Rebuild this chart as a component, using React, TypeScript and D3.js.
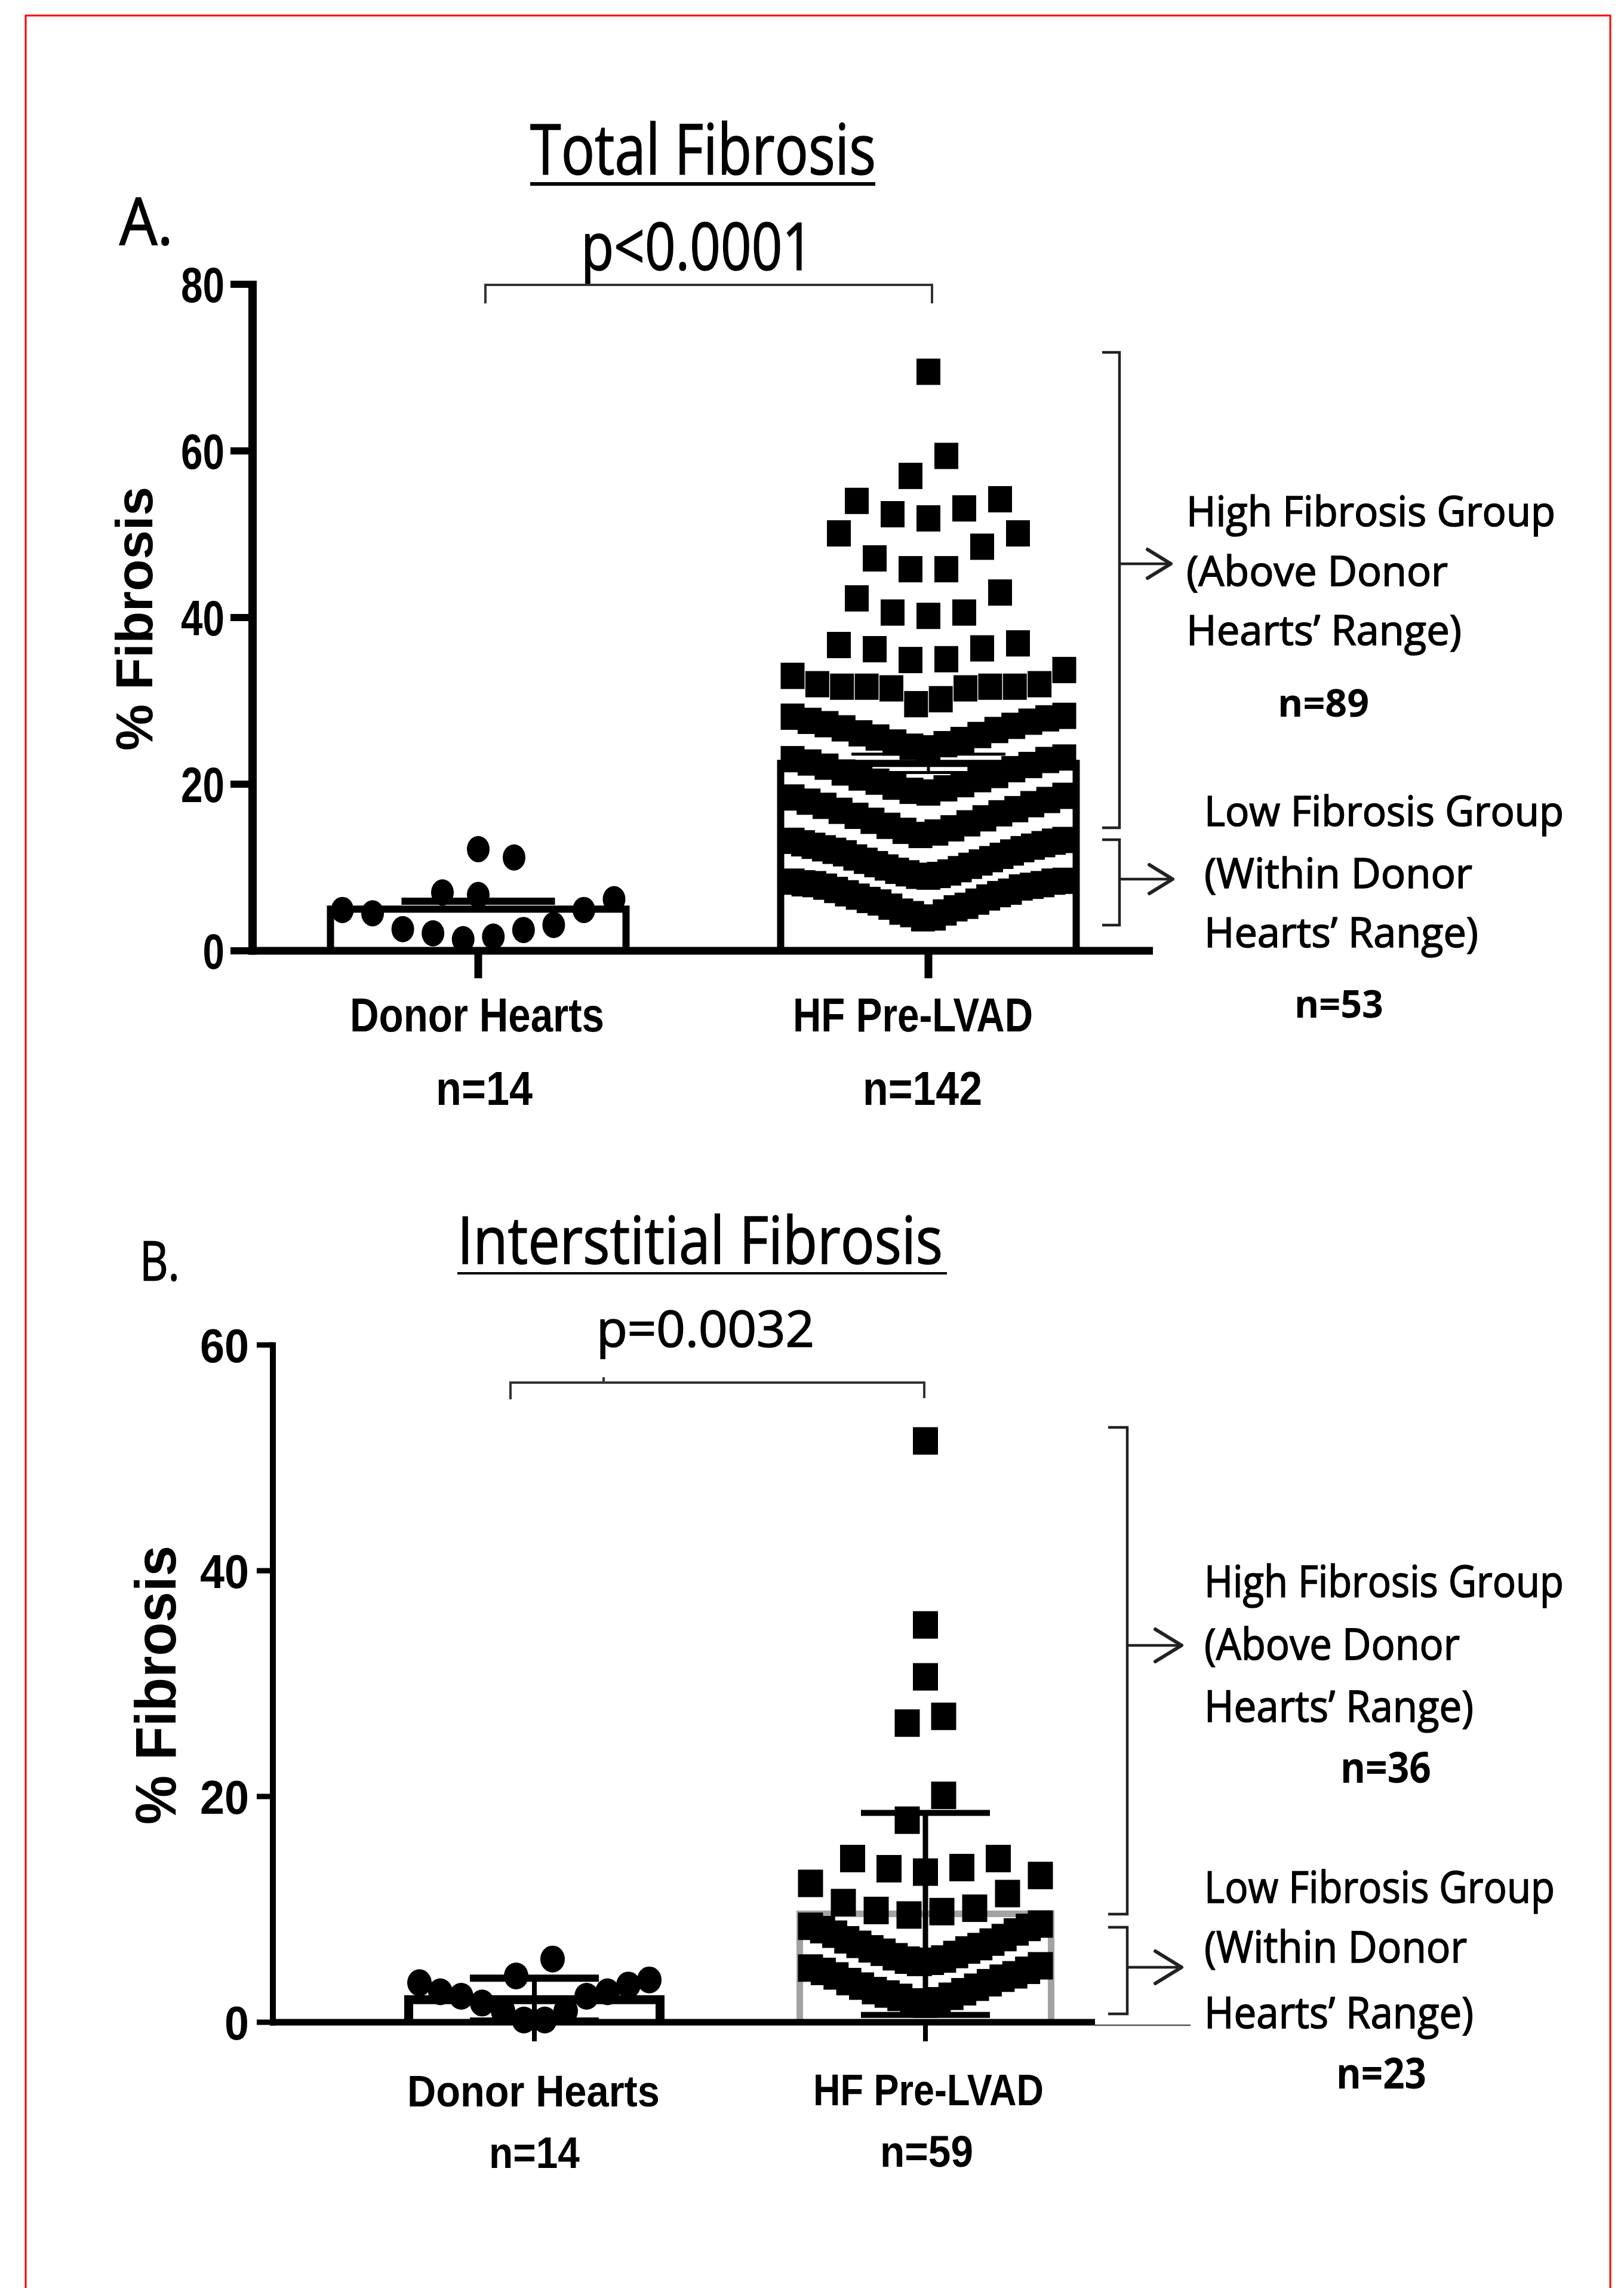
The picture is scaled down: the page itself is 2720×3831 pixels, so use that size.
import React, { Component, createRef } from "react";
import * as d3 from "d3";

const categories = ["Donor Hearts", "HF Pre-LVAD"];

// Panel A - total fibrosis
const totalDonor = [12.2, 11.2, 7.0, 6.7, 6.2, 4.9, 4.9, 4.5, 3.1, 2.6, 2.5, 2.1, 1.7, 1.4];
const totalHF = [
  69.5, 59.4, 57.0, 54.2, 54.0, 53.1, 52.4, 51.9, 50.1, 50.1, 48.5, 47.1, 45.8, 45.8,
  43.0, 42.3, 40.6, 40.6, 40.2, 36.9, 36.7, 36.3, 36.2, 35.0, 34.9,
  33.7, 33.0, 32.0, 32.0, 31.7, 31.7, 31.7, 31.7, 31.5, 31.5, 30.2, 29.6,
  28.2, 28.1, 27.9, 27.6, 27.5, 27.2, 27.0, 26.7, 26.5, 26.1, 25.9, 25.6, 25.3, 25.0, 24.8, 24.5, 24.3,
  23.2, 23.0, 22.9, 22.6, 22.3, 22.1, 21.8, 21.4, 21.1, 20.8, 20.6, 20.3, 20.0, 19.7, 19.5, 19.2, 19.0,
  18.6, 18.4, 18.1, 17.9, 17.6, 17.4, 17.0, 16.8, 16.5, 16.2, 15.9, 15.6, 15.3, 15.0, 14.7, 14.4, 14.2, 13.9,
  13.3, 13.2, 13.1, 12.9, 12.8, 12.6, 12.5, 12.3, 12.2, 12.0, 11.8, 11.7, 11.4, 11.2, 11.0, 10.8, 10.6,
  10.4, 10.2, 10.0, 9.8, 9.6, 9.4, 9.3, 9.1, 9.0, 8.9,
  8.4, 8.3, 8.3, 8.1, 8.0, 8.0, 7.8, 7.7, 7.6, 7.3, 7.1, 6.9, 6.8, 6.5, 6.4, 6.1, 5.9, 5.8, 5.4, 5.3,
  5.1, 4.7, 4.6, 4.4, 4.0, 3.9,
];
const totalMean = [5.0, 22.5];
const totalSem = [0.95, 1.1];
const totalTicks = [0, 20, 40, 60, 80];
const totalN = ["n=14", "n=142"];
const totalGroupN = ["n=89", "n=53"];

// Panel B - interstitial fibrosis
const interDonor = [5.6, 4.1, 3.75, 3.5, 3.3, 2.7, 2.7, 2.3, 2.3, 1.7, 1.0, 1.0, 0.2, 0.2];
const interHF = [
  51.5, 35.2, 30.6, 27.1, 26.5, 20.1, 17.9,
  14.5, 14.5, 13.7, 13.6, 13.3,
  13.0, 12.3, 11.4, 10.6, 10.1, 9.9, 9.8, 9.5,
  8.7, 8.5, 8.4, 8.2, 8.0, 7.8, 7.5, 7.3, 7.1, 6.9, 6.7, 6.5, 6.4, 6.2, 6.0, 5.8, 5.6, 5.5, 5.4, 5.3,
  5.0, 4.8, 4.6, 4.5, 4.2, 4.1, 3.9, 3.6, 3.5, 3.2, 3.1, 2.8, 2.7, 2.5, 2.3, 2.2, 1.9, 1.8, 1.6,
];
const interMean = [2.0, 9.6];
const interSd = [1.9, 8.95];
const interTicks = [0, 20, 40, 60];
const interN = ["n=14", "n=59"];
const interGroupN = ["n=36", "n=23"];

const highText = ["High Fibrosis Group", "(Above Donor", "Hearts\u2019 Range)"];
const lowText = ["Low Fibrosis Group", "(Within Donor", "Hearts\u2019 Range)"];

const SANS = "'Liberation Sans', Arial, sans-serif";
const OPEN = "'Open Sans', sans-serif";

const panelA = {
  title: "Total Fibrosis", letter: "A.", p: "p<0.0001",
  donor: totalDonor, hf: totalHF, mean: totalMean, err: totalSem, lowerCap: [false, true],
  ticks: totalTicks, ns: totalN, groupNs: totalGroupN,
  yMax: 80, yRange: [1592, 476], xCenters: [801, 1555],
  axisX: 423, axisW: 14, xEnd: 1931, xAxisW: 13, tickLen: 37, tickW: 12, xTickLen: 46, xTickW: 13,
  labRight: 376, labSize: 84, digitW: 36.5,
  barW: 495, barStroke: [12, 12], barColor: ["#000", "#000"],
  capW: [257, 258], capStroke: [12, 5], stemStroke: [8, 5],
  binPx: 69, gap: 60, spread: 455, dot: [38, 44], sq: [40, 44],
  titlePos: [888, 292, 118, 579], underline: [888, 1466, 308, 6],
  letterPos: [200, 410, 109, 90],
  pPos: [973, 452, 110, 389], bracket: "M813,508V477H1561V508",
  yLab: [255, 1257, 87, 442],
  catPos: [[586, 1727, 426], [1328, 1727, 402]], catSize: 80,
  nPos: [[730, 1850, 162], [1445, 1850, 200]],
  sideSize: 69, sideNSize: 64,
  highLines: [[1987, 881, 618], [1987, 981, 438], [1987, 1080, 461]], highN: [2140, 1200, 153],
  lowLines: [[2017, 1383, 602], [2017, 1487, 449], [2017, 1586, 459]], lowN: [2168, 1704, 149],
  brackets: [[1846, 1875, 590, 1386, 944, 1961], [1846, 1875, 1406, 1549, 1472, 1964]],
  arrowHead: [39, 24],
  axisTail: null,
};

const panelB = {
  title: "Interstitial Fibrosis", letter: "B.", p: "p=0.0032",
  donor: interDonor, hf: interHF, mean: interMean, err: interSd, lowerCap: [true, true],
  ticks: interTicks, ns: interN, groupNs: interGroupN,
  yMax: 60, yRange: [3386, 2252], xCenters: [895, 1550],
  axisX: 457, axisW: 10, xEnd: 1834, xAxisW: 11, tickLen: 27, tickW: 9, xTickLen: 32, xTickW: 8,
  labRight: 417, labSize: 80, digitW: 41,
  barW: 421, barStroke: [15, 11], barColor: ["#000", "#a3a3a3"],
  capW: [216, 216], capStroke: [12, 10], stemStroke: [8, 9],
  binPx: 69, gap: 61, spread: 385, dot: [41, 45], sq: [42, 46],
  titlePos: [766, 2116, 109, 813], underline: [766, 1586, 2132, 4],
  letterPos: [234, 2144, 91, 67],
  pPos: [999, 2255, 84, 365], bracket: "M855,2343V2315H1548V2341M1011,2315V2306",
  yLab: [294, 3055, 96, 467],
  catPos: [[682, 3527, 423], [1362, 3525, 386]], catSize: 75,
  nPos: [[819, 3630, 152], [1474, 3628, 156]],
  sideSize: 74, sideNSize: 72,
  highLines: [[2017, 2674, 602], [2017, 2779, 428], [2017, 2883, 451]], highN: [2245, 2985, 152],
  lowLines: [[2017, 3186, 587], [2017, 3286, 440], [2017, 3396, 451]], lowN: [2238, 3497, 151],
  brackets: [[1856, 1888, 2390, 3205, 2755, 1979], [1856, 1888, 3227, 3372, 3294, 1979]],
  arrowHead: [44, 27],
  axisTail: [1834, 1994, 3391],
};

// GraphPad-like scatter: group values into rows of binPx height, then spread
// each row around the column centre, lowest values in the middle
function swarm(values: number[], y, cx: number, binPx: number, gap: number, spread: number) {
  var sorted = values.slice().sort((a, b) => a - b);
  var out: { v: number; x: number; y: number }[] = [];
  var i = 0;
  while (i < sorted.length) {
    var start = y(sorted[i]);
    var row: number[] = [];
    while (i < sorted.length && start - y(sorted[i]) < binPx) {
      row.push(sorted[i]);
      i++;
    }
    var n = row.length;
    var step = n > 1 ? Math.min(gap, spread / (n - 1)) : 0;
    var mid = (n - 1) / 2;
    var slots = d3.range(n).sort((a, b) => Math.abs(a - mid) - Math.abs(b - mid) || a - b);
    row.forEach((v, k) => out.push({ v: v, x: cx + (slots[k] - mid) * step, y: y(v) }));
  }
  return out;
}

function label(g, txt, x, y, size, width, family = OPEN, weight = 400) {
  var t = g
    .append("text")
    .attr("x", x)
    .attr("y", y)
    .attr("font-size", size)
    .attr("font-family", family)
    .attr("font-weight", weight)
    .attr("fill", "#000")
    .text(txt);
  if (width) t.attr("textLength", width).attr("lengthAdjust", "spacingAndGlyphs");
  // the original text is a touch heavier than Open Sans regular
  if (family === OPEN && weight === 400) t.attr("stroke", "#000").attr("stroke-width", 1.6);
  return t;
}

function drawPanel(g, p) {
  var y = d3.scaleLinear().domain([0, p.yMax]).range(p.yRange);
  var x = d3.scalePoint().domain(categories).range(p.xCenters);
  var base = y(0);

  // bars (mean)
  categories.forEach((c, i) => {
    var cx = x(c), h = p.barW / 2, top = y(p.mean[i]);
    g.append("path")
      .attr("d", `M${cx - h},${base}V${top}H${cx + h}V${base}`)
      .attr("fill", "none")
      .attr("stroke", p.barColor[i])
      .attr("stroke-width", p.barStroke[i]);
  });

  // individual points
  var donorPts = swarm(p.donor, y, x(categories[0]), p.binPx, p.gap, p.spread);
  g.selectAll(".dot")
    .data(donorPts)
    .join("ellipse")
    .attr("class", "dot")
    .attr("cx", (d) => d.x)
    .attr("cy", (d) => d.y)
    .attr("rx", p.dot[0] / 2)
    .attr("ry", p.dot[1] / 2)
    .attr("fill", "#000");

  var hfPts = swarm(p.hf, y, x(categories[1]), p.binPx, p.gap, p.spread);
  g.selectAll(".sq")
    .data(hfPts)
    .join("rect")
    .attr("class", "sq")
    .attr("x", (d) => d.x - p.sq[0] / 2)
    .attr("y", (d) => d.y - p.sq[1] / 2)
    .attr("width", p.sq[0])
    .attr("height", p.sq[1])
    .attr("fill", "#000");

  // error bars
  categories.forEach((c, i) => {
    var cx = x(c), m = p.mean[i], e = p.err[i], hw = p.capW[i] / 2;
    var lo = p.lowerCap[i] ? m - e : m;
    g.append("line")
      .attr("x1", cx).attr("x2", cx)
      .attr("y1", y(lo)).attr("y2", y(m + e))
      .attr("stroke", "#000").attr("stroke-width", p.stemStroke[i]);
    var caps = p.lowerCap[i] ? [m + e, m - e] : [m + e];
    caps.forEach((v) => {
      g.append("line")
        .attr("x1", cx - hw).attr("x2", cx + hw)
        .attr("y1", y(v)).attr("y2", y(v))
        .attr("stroke", "#000").attr("stroke-width", p.capStroke[i]);
    });
  });

  // axes
  g.append("line")
    .attr("x1", p.axisX).attr("x2", p.axisX)
    .attr("y1", y(p.yMax) - p.tickW / 2).attr("y2", base + p.xAxisW / 2)
    .attr("stroke", "#000").attr("stroke-width", p.axisW);
  g.append("line")
    .attr("x1", p.axisX - p.axisW / 2).attr("x2", p.xEnd)
    .attr("y1", base).attr("y2", base)
    .attr("stroke", "#000").attr("stroke-width", p.xAxisW);
  if (p.axisTail) {
    g.append("line")
      .attr("x1", p.axisTail[0]).attr("x2", p.axisTail[1])
      .attr("y1", p.axisTail[2]).attr("y2", p.axisTail[2])
      .attr("stroke", "#555").attr("stroke-width", 2.5);
  }
  g.selectAll(".ytick")
    .data(p.ticks)
    .join("line")
    .attr("class", "ytick")
    .attr("x1", p.axisX - p.tickLen).attr("x2", p.axisX)
    .attr("y1", (d) => y(d)).attr("y2", (d) => y(d))
    .attr("stroke", "#000").attr("stroke-width", p.tickW);
  var digitH = p.labSize * 0.716;
  g.selectAll(".ylab")
    .data(p.ticks)
    .join("text")
    .attr("class", "ylab")
    .attr("x", (d) => p.labRight - String(d).length * p.digitW)
    .attr("y", (d) => y(d) + digitH / 2)
    .attr("textLength", (d) => String(d).length * p.digitW)
    .attr("lengthAdjust", "spacingAndGlyphs")
    .attr("font-size", p.labSize)
    .attr("font-family", SANS)
    .attr("font-weight", 700)
    .text((d) => d);
  categories.forEach((c) => {
    g.append("line")
      .attr("x1", x(c)).attr("x2", x(c))
      .attr("y1", base).attr("y2", base + p.xTickLen)
      .attr("stroke", "#000").attr("stroke-width", p.xTickW);
  });

  // axis titles
  label(g, "% Fibrosis", 0, 0, p.yLab[2], p.yLab[3], SANS, 700)
    .attr("transform", `translate(${p.yLab[0]},${p.yLab[1]}) rotate(-90)`);
  categories.forEach((c, i) => {
    var cp = p.catPos[i], np = p.nPos[i];
    label(g, c, cp[0], cp[1], p.catSize, cp[2], SANS, 700);
    label(g, p.ns[i], np[0], np[1], p.catSize, np[2], SANS, 700);
  });

  // title, panel letter, p value with bracket
  var tp = p.titlePos;
  label(g, p.title, tp[0], tp[1], tp[2], tp[3]);
  g.append("line")
    .attr("x1", p.underline[0]).attr("x2", p.underline[1])
    .attr("y1", p.underline[2]).attr("y2", p.underline[2])
    .attr("stroke", "#000").attr("stroke-width", p.underline[3]);
  label(g, p.letter, p.letterPos[0], p.letterPos[1], p.letterPos[2], p.letterPos[3]);
  label(g, p.p, p.pPos[0], p.pPos[1], p.pPos[2], p.pPos[3]);
  g.append("path").attr("d", p.bracket).attr("fill", "none").attr("stroke", "#333").attr("stroke-width", 4);

  // group brackets and arrows on the right
  p.brackets.forEach((b) => {
    var [x0, x1, top, bot, ay, ax] = b;
    var [al, ah] = p.arrowHead;
    g.append("path")
      .attr("d", `M${x0},${top}H${x1}V${bot}H${x0}M${x1},${ay}H${ax - 2}`)
      .attr("fill", "none").attr("stroke", "#222").attr("stroke-width", 4.5);
    g.append("path")
      .attr("d", `M${ax - al},${ay - ah}L${ax},${ay}L${ax - al},${ay + ah}`)
      .attr("fill", "none").attr("stroke", "#222").attr("stroke-width", 6)
      .attr("stroke-linecap", "round").attr("stroke-linejoin", "round");
  });
  highText.forEach((t, i) => {
    var lp = p.highLines[i];
    label(g, t, lp[0], lp[1], p.sideSize, lp[2]);
  });
  lowText.forEach((t, i) => {
    var lp = p.lowLines[i];
    label(g, t, lp[0], lp[1], p.sideSize, lp[2]);
  });
  label(g, p.groupNs[0], p.highN[0], p.highN[1], p.sideNSize, p.highN[2], OPEN, 700);
  label(g, p.groupNs[1], p.lowN[0], p.lowN[1], p.sideNSize, p.lowN[2], OPEN, 700);
}

class App extends Component {
  svgRef = createRef<SVGSVGElement>();

  componentDidMount() {
    this.componentDidUpdate();
  }

  componentDidUpdate() {
    var svg = d3.select(this.svgRef.current);
    svg.selectAll("*").remove();
    svg.append("rect")
      .attr("width", 2720).attr("height", 3831).attr("fill", "#fff");
    // red frame around the figure (bottom edge runs off the page)
    svg.append("rect")
      .attr("x", 43).attr("y", 26).attr("width", 2654).attr("height", 3900)
      .attr("fill", "none").attr("stroke", "#f00").attr("stroke-width", 3);
    drawPanel(svg.append("g").attr("class", "panel_a"), panelA);
    drawPanel(svg.append("g").attr("class", "panel_b"), panelB);
  }

  render() {
    return (
      <svg
        ref={this.svgRef}
        width={2720}
        height={3831}
        style={{ position: "absolute", left: 0, top: 0, display: "block" }}
      />
    );
  }
}

export default App;
